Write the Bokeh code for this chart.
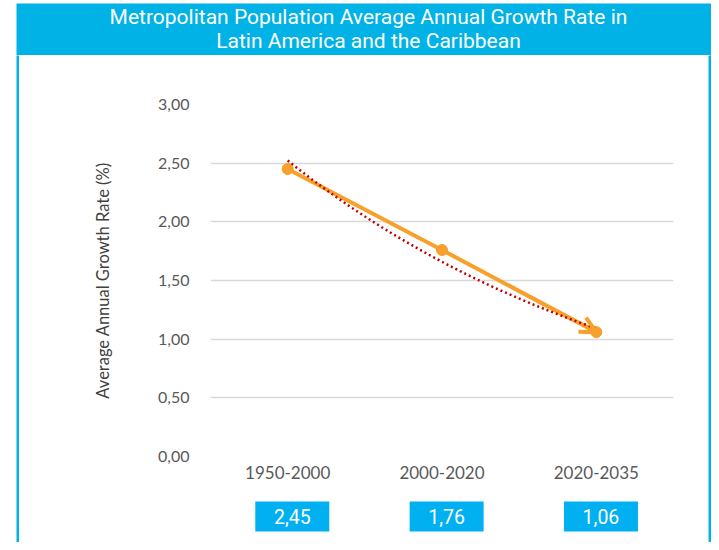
import numpy as np
from bokeh.plotting import figure
from bokeh.layouts import column, row
from bokeh.models import Range1d, FixedTicker, CustomJSTickFormatter, Arrow, OpenHead
from bokeh.core.properties import value
from bokeh.embed import file_html
from bokeh.resources import INLINE

# ---- data ----
title_lines = ["Metropolitan Population Average Annual Growth Rate in",
               "Latin America and the Caribbean"]
periods = ["1950-2000", "2000-2020", "2020-2035"]
growth = [2.45, 1.76, 1.06]
y_ticks = [0.0, 0.5, 1.0, 1.5, 2.0, 2.5, 3.0]
y_label = "Average Annual Growth Rate (%)"

# ---- styles ----
CYAN = "#00B2E6"
BOX_CYAN = "#00B0F0"
ORANGE = "#F8A02C"
RED = "#C00000"
GRID = "#D9D9D9"
TICK_COL = "#595959"

xpos = list(range(1, len(periods) + 1))
value_text = [f"{v:.2f}".replace(".", ",") for v in growth]


def blank(fig):
    fig.outline_line_color = None
    fig.xgrid.visible = False
    fig.ygrid.visible = False
    return fig


# ---- title band (pixel-like ranges) ----
tfig = figure(width=711, height=55, output_backend="svg", toolbar_location=None,
              x_range=Range1d(16, 711), y_range=Range1d(55, 3),
              x_axis_location=None, y_axis_location=None,
              min_border_left=16, min_border_right=0, min_border_top=3,
              min_border_bottom=0, title=None)
blank(tfig)
tfig.background_fill_color = CYAN
tfig.border_fill_color = "white"
tfig.text(x=[368, 368], y=[16.5, 40.5], text=title_lines, text_align="center",
          text_baseline="middle", text_color="white", text_font=value("Roboto"),
          text_font_size="21px")

# ---- side borders ----
lstrip = figure(width=19, height=487, output_backend="svg", toolbar_location=None,
                x_axis_location=None, y_axis_location=None,
                min_border_left=16, min_border_right=0, min_border_top=0,
                min_border_bottom=0, title=None)
blank(lstrip)
lstrip.background_fill_color = CYAN
lstrip.border_fill_color = "white"

rstrip = figure(width=3, height=487, output_backend="svg", toolbar_location=None,
                x_axis_location=None, y_axis_location=None,
                min_border=0, title=None)
blank(rstrip)
rstrip.background_fill_color = CYAN
rstrip.border_fill_color = CYAN

# ---- main chart ----
xr = Range1d(0.5, len(periods) + 0.5)
p = figure(width=689, height=435, output_backend="svg", toolbar_location=None,
           x_range=xr, y_range=Range1d(0, 3),
           min_border_left=191, min_border_right=35, min_border_top=49,
           min_border_bottom=34, title=None)
p.outline_line_color = None
p.background_fill_color = "white"
p.border_fill_color = "white"
p.xgrid.visible = False
p.ygrid.grid_line_color = GRID
p.ygrid.grid_line_width = 1.5

p.yaxis.ticker = FixedTicker(ticks=y_ticks)
p.yaxis.formatter = CustomJSTickFormatter(code="return tick.toFixed(2).replace('.', ',');")
p.yaxis.axis_line_color = None
p.yaxis.major_tick_line_color = None
p.yaxis.minor_tick_line_color = None
p.yaxis.major_label_text_font = "Lato"
p.yaxis.major_label_text_font_size = "16px"
p.yaxis.major_label_text_color = TICK_COL
p.yaxis.major_label_standoff = 15
p.yaxis.axis_label = y_label
p.yaxis.axis_label_text_font = "Lato"
p.yaxis.axis_label_text_font_size = "16.5px"
p.yaxis.axis_label_text_font_style = "normal"
p.yaxis.axis_label_text_color = "#404040"
p.yaxis.axis_label_standoff = 42

p.xaxis.ticker = FixedTicker(ticks=xpos)
p.xaxis.major_label_overrides = {x: lab for x, lab in zip(xpos, periods)}
p.xaxis.axis_line_color = None
p.xaxis.major_tick_line_color = None
p.xaxis.minor_tick_line_color = None
p.xaxis.major_label_text_font = "Lato"
p.xaxis.major_label_text_font_size = "17px"
p.xaxis.major_label_text_color = TICK_COL
p.xaxis.major_label_standoff = 3

p.line(xpos, growth, line_color=ORANGE, line_width=4)
p.add_layout(Arrow(end=OpenHead(size=16, line_width=4, line_color=ORANGE),
                   x_start=xpos[-2], y_start=growth[-2],
                   x_end=xpos[-1], y_end=growth[-1], line_alpha=0))
p.scatter(xpos, growth, size=11, fill_color=ORANGE, line_color=ORANGE)

# exponential trendline fitted to the data
coef = np.polyfit(xpos, np.log(growth), 1)
xs = np.linspace(xpos[0], xpos[-1], 60)
p.line(xs, np.exp(np.polyval(coef, xs)), line_color=RED, line_width=2.5, line_dash="2 3")

# ---- value boxes ----
bfig = figure(width=689, height=52, output_backend="svg", toolbar_location=None,
              x_range=xr, y_range=Range1d(542, 490),
              x_axis_location=None, y_axis_location=None,
              min_border_left=191, min_border_right=35, min_border_top=0,
              min_border_bottom=0, title=None)
blank(bfig)
bfig.background_fill_color = "white"
bfig.border_fill_color = "white"
bx = [x + 0.03 for x in xpos]
bfig.rect(x=bx, y=[516] * len(bx), width=74, height=30, width_units="screen",
          height_units="screen", fill_color=BOX_CYAN, line_color=None)
bfig.text(x=bx, y=[515.5] * len(bx), text=value_text, text_align="center",
          text_baseline="middle", text_color="white", text_font=value("Roboto"),
          text_font_size="19.5px")

layout = column(tfig, row(lstrip, column(p, bfig), rstrip))
open("out.html", "w").write(file_html(layout, INLINE))
